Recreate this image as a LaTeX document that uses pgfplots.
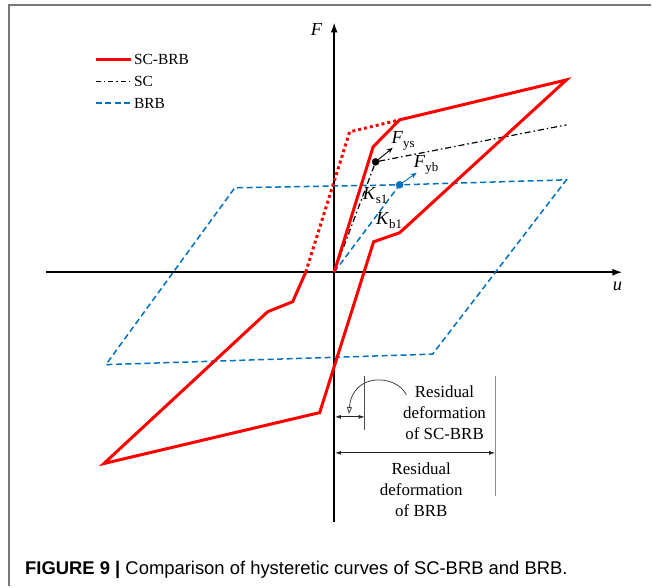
\documentclass[border=0pt]{standalone}
\usepackage{pgfplots}
\pgfplotsset{compat=1.18}
\usepackage{fontspec}
\setmainfont{Liberation Serif}
\newfontfamily\capfont{Liberation Sans}
\usetikzlibrary{arrows.meta}
\definecolor{brbblue}{RGB}{0,112,192}
\definecolor{framegray}{RGB}{120,120,120}
\newcommand\sub[1]{\raisebox{-0.45ex}{\fontsize{13}{13}\selectfont #1}}
\begin{document}
\begin{tikzpicture}
\begin{axis}[
  x=1bp, y=1bp,
  xmin=-288, xmax=288.5, ymin=-250, ymax=250,
  axis lines=middle,
  axis line style={line width=1.6bp},
  every inner x axis line/.append style={-{Latex[length=10bp,width=7bp]}},
  every inner y axis line/.append style={-{Latex[length=10bp,width=7bp]}},
  xtick=\empty, ytick=\empty,
  enlargelimits=false,
  clip=false,
]
% bounding box of the whole figure (652 x 587)
\path (axis cs:-334.5,272.5) rectangle (axis cs:317.5,-314.5);
% frame
\draw[framegray, line width=1.3bp] (axis cs:-325.5,-314.5) -- (axis cs:-325.5,267.5) -- (axis cs:317.5,267.5);

% BRB
\addplot[brbblue, line width=1.5bp, dash pattern=on 6bp off 3.5bp] coordinates {
  (0,0) (65.5,87.5) (232.5,92.5) (98.5,-82) (-228.5,-92.5) (-99.5,84.5) (65.5,87.5)};
% SC
\addplot[black, line width=1.2bp, dash pattern=on 6bp off 3bp on 1.5bp off 3bp] coordinates {
  (0,0) (41.5,110.5) (232.5,147.5)};
% SC-BRB
\addplot[red, line width=3bp] coordinates {
  (0,0) (39,125.5) (65.5,152.5) (232.5,192.5) (65.5,39.5) (39.5,30.5)
  (-14.5,-140.5) (-230.5,-191.5) (-66.5,-39.5) (-41.5,-29.5) (-28.5,0)};
\addplot[red, line width=3bp, dash pattern=on 3bp off 3bp] coordinates {
  (-28.5,0) (15.5,140.5) (65.5,152.5)};

% yield points
\addplot[only marks, mark=*, mark size=3.5bp, black] coordinates {(41.5,110.5)};
\addplot[only marks, mark=*, mark size=3.5bp, brbblue, mark options={fill=brbblue}] coordinates {(65.5,87.5)};
\draw[black, line width=0.9bp, -{Stealth[length=6bp,width=5bp]}] (axis cs:41.5,110.5) -- (axis cs:58.5,124.5);
\draw[brbblue, line width=0.9bp, -{Stealth[length=6bp,width=5bp]}] (axis cs:65.5,87.5) -- (axis cs:82.5,99.5);

% labels
\node[font=\fontsize{18.5}{20}\selectfont] at (axis cs:69,131.5) {\textit{F}\sub{ys}};
\node[font=\fontsize{18.5}{20}\selectfont] at (axis cs:92,107.5) {\textit{F}\sub{yb}};
\node[font=\fontsize{18.5}{20}\selectfont] at (axis cs:41,76.5) {\textit{K}\sub{s1}};
\node[font=\fontsize{18.5}{20}\selectfont] at (axis cs:55,51.5) {\textit{K}\sub{b1}};
\node[font=\fontsize{18.5}{20}\selectfont] at (axis cs:-17.5,242.5) {\textit{F}};
\node[font=\fontsize{18.5}{20}\selectfont] at (axis cs:283.5,-14.5) {\textit{u}};

% legend
\addplot[red, line width=3bp] coordinates {(-238.5,212.5) (-203.5,212.5)};
\addplot[black, line width=1.2bp, dash pattern=on 5bp off 3bp on 1.5bp off 3bp] coordinates {(-238.5,190.8) (-203.5,190.8)};
\addplot[brbblue, line width=1.5bp, dash pattern=on 6bp off 3.5bp] coordinates {(-238.5,169.2) (-203.5,169.2)};
\node[anchor=west, inner sep=0pt, font=\fontsize{15.5}{18}\selectfont] at (axis cs:-200.5,212.5) {SC-BRB};
\node[anchor=west, inner sep=0pt, font=\fontsize{15.5}{18}\selectfont] at (axis cs:-200.5,190.8) {SC};
\node[anchor=west, inner sep=0pt, font=\fontsize{15.5}{18}\selectfont] at (axis cs:-200.5,169.2) {BRB};

% residual deformation annotations
\draw[black!70, line width=0.9bp] (axis cs:30.5,-103.5) -- (axis cs:30.5,-157.5);
\draw[black!85, line width=0.8bp, {Latex[length=6bp,width=4bp]}-{Latex[length=6bp,width=4bp]}] (axis cs:0.8,-144.8) -- (axis cs:30.5,-144.8);
\draw[black!75, line width=0.8bp, -{Triangle[open,length=7bp,width=5bp]}] (axis cs:72.2,-122.5) .. controls (axis cs:62,-102) and (axis cs:18,-100) .. (axis cs:14.8,-142);
\draw[black!45, line width=1.1bp] (axis cs:161.2,-103.5) -- (axis cs:161.2,-223.5);
\draw[black!85, line width=0.8bp, {Latex[length=6bp,width=4bp]}-{Latex[length=6bp,width=4bp]}] (axis cs:0.8,-180.8) -- (axis cs:161.2,-180.8);
\node[align=center, font=\fontsize{17}{21}\selectfont] at (axis cs:110.5,-140.5) {Residual\\deformation\\of SC-BRB};
\node[align=center, font=\fontsize{17}{21}\selectfont] at (axis cs:87.2,-217.5) {Residual\\deformation\\of BRB};

% caption
\node[anchor=base west, inner sep=0pt, font=\capfont\fontsize{18.5}{22}\selectfont] at (axis cs:-309.5,-302.5) {\textbf{FIGURE 9 |} Comparison of hysteretic curves of SC-BRB and BRB.};
\end{axis}
\end{tikzpicture}
\end{document}
